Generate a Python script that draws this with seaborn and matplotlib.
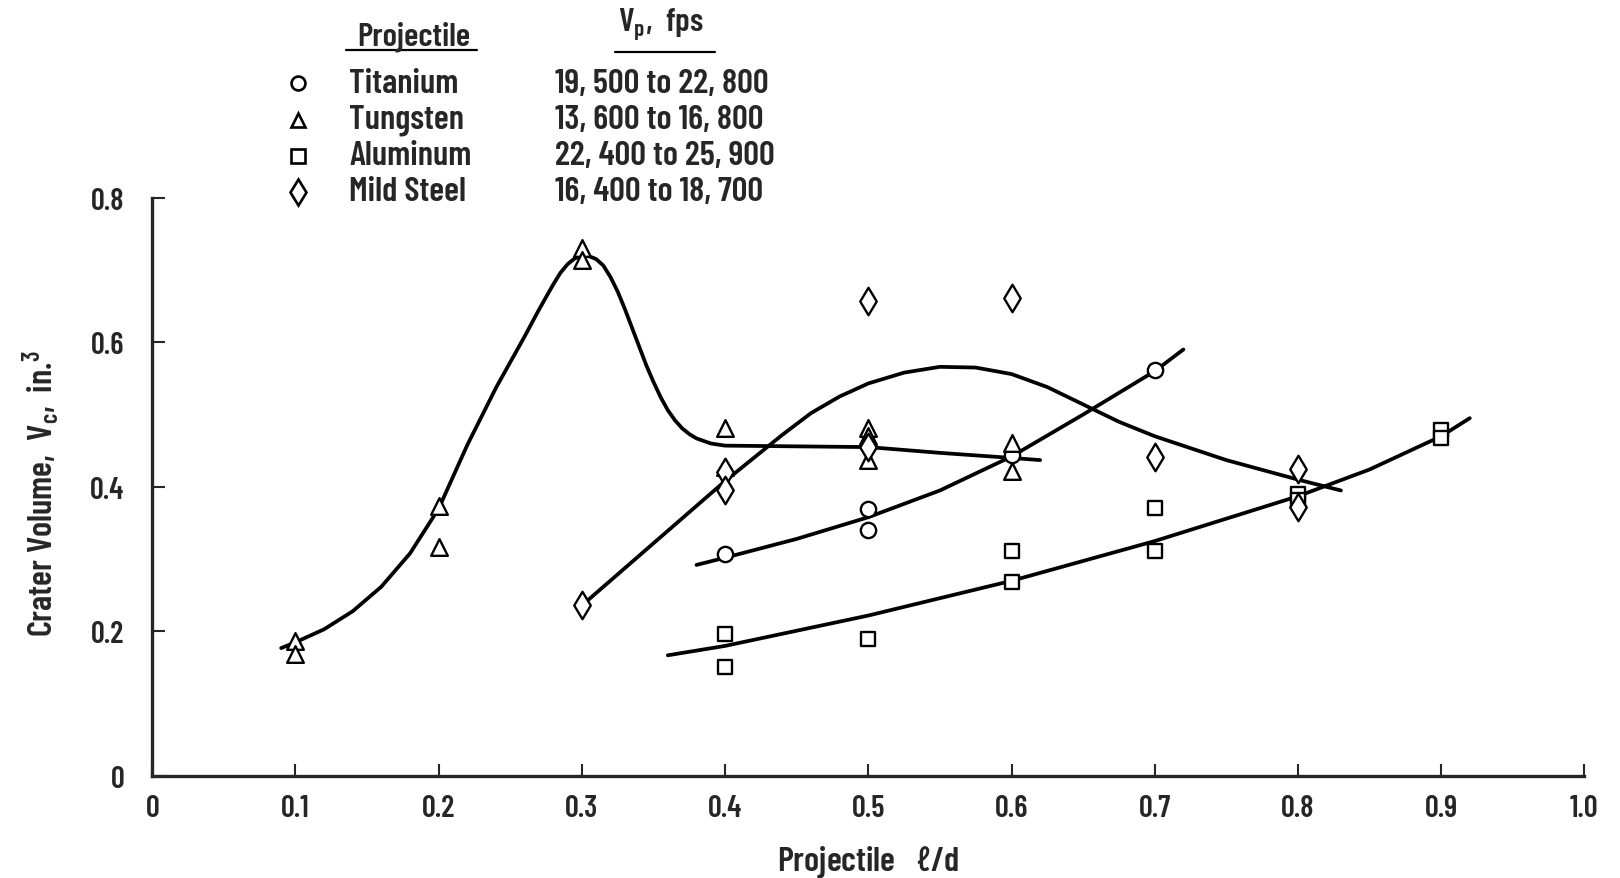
import pandas as pd
import matplotlib
matplotlib.use('Agg')
import matplotlib.pyplot as plt
import seaborn as sns

ti_x = [0.4, 0.5, 0.5, 0.6, 0.7]
ti_y = [0.307, 0.369, 0.341, 0.444, 0.562]
w_x = [0.1, 0.1, 0.2, 0.2, 0.3, 0.3, 0.4, 0.4, 0.5, 0.5, 0.5, 0.6, 0.6]
w_y = [0.187, 0.169, 0.374, 0.317, 0.730, 0.714, 0.481, 0.428, 0.482, 0.470, 0.437, 0.461, 0.422]
al_x = [0.4, 0.4, 0.5, 0.6, 0.6, 0.7, 0.7, 0.8, 0.8, 0.9, 0.9]
al_y = [0.197, 0.151, 0.189, 0.311, 0.269, 0.371, 0.311, 0.390, 0.382, 0.479, 0.467]
st_x = [0.3, 0.4, 0.4, 0.5, 0.5, 0.6, 0.7, 0.8, 0.8]
st_y = [0.236, 0.420, 0.396, 0.657, 0.455, 0.661, 0.441, 0.425, 0.372]

# faired curves, points
w_cx = [0.09, 0.10, 0.12, 0.14, 0.16, 0.18, 0.20, 0.22, 0.24, 0.26, 0.27, 0.28, 0.285, 0.29, 0.295, 0.30,
        0.305, 0.31, 0.315, 0.32, 0.325, 0.33, 0.335, 0.34, 0.345, 0.35, 0.355, 0.36, 0.365, 0.37,
        0.375, 0.38, 0.39, 0.40, 0.45, 0.50, 0.55, 0.60, 0.62]
w_cy = [0.177, 0.185, 0.203, 0.228, 0.262, 0.308, 0.370, 0.458, 0.537, 0.608, 0.645, 0.680, 0.696, 0.708, 0.716, 0.719,
        0.719, 0.715, 0.706, 0.690, 0.670, 0.646, 0.620, 0.594, 0.568, 0.545, 0.524, 0.506, 0.492, 0.481,
        0.473, 0.467, 0.460, 0.457, 0.456, 0.455, 0.447, 0.440, 0.437]
st_cx = [0.30, 0.35, 0.40, 0.42, 0.44, 0.46, 0.48, 0.50, 0.525, 0.55, 0.575, 0.60, 0.625, 0.65, 0.675,
         0.70, 0.75, 0.80, 0.83]
st_cy = [0.236, 0.322, 0.408, 0.440, 0.472, 0.502, 0.525, 0.543, 0.558, 0.566, 0.565, 0.556, 0.538, 0.514, 0.490,
         0.470, 0.437, 0.410, 0.395]
ti_cx = [0.38, 0.40, 0.45, 0.50, 0.55, 0.60, 0.65, 0.70, 0.72]
ti_cy = [0.292, 0.302, 0.328, 0.358, 0.395, 0.442, 0.500, 0.560, 0.590]
al_cx = [0.36, 0.40, 0.50, 0.60, 0.70, 0.80, 0.85, 0.90, 0.92]
al_cy = [0.167, 0.180, 0.222, 0.270, 0.325, 0.387, 0.424, 0.470, 0.495]

names = ['Titanium', 'Tungsten', 'Aluminum', 'Mild Steel']
speeds = ['19, 500 to 22, 800', '13, 600 to 16, 800', '22, 400 to 25, 900', '16, 400 to 18, 700']
marks = ['o', '^', 's', 'd']
msize = [11, 12, 10, 14]

sns.set_style('ticks')
plt.rcParams['font.family'] = ['Barlow Condensed', 'DejaVu Sans']
plt.rcParams['font.stretch'] = 'condensed'
plt.rcParams['font.weight'] = 'semibold'
plt.rcParams['axes.labelweight'] = 'semibold'
plt.rcParams['mathtext.default'] = 'regular'

fig = plt.figure(figsize=(16.2, 8.79), dpi=100)
ax = fig.add_axes([0.094, 0.116, 0.884, 0.658])

for cx, cy in [(w_cx, w_cy), (st_cx, st_cy), (ti_cx, ti_cy), (al_cx, al_cy)]:
    sns.lineplot(x=cx, y=cy, sort=False, color='black', linewidth=2.7, ax=ax)

pts = [(ti_x, ti_y), (w_x, w_y), (al_x, al_y), (st_x, st_y)]
for (px, py), m, s in zip(pts, marks, msize):
    sns.scatterplot(x=px, y=py, marker=m, s=s ** 2, color='white', edgecolor='black',
                    linewidth=1.7, ax=ax, zorder=3)

ax.set_xlim(0, 1.0)
ax.set_ylim(0, 0.8)
ax.set_xticks([i / 10 for i in range(11)])
ax.set_xticklabels(['0'] + ['%.1f' % (i / 10) for i in range(1, 11)])
ax.set_yticks([0, 0.2, 0.4, 0.6, 0.8])
ax.set_yticklabels(['0', '0.2', '0.4', '0.6', '0.8'])
ax.tick_params(direction='in', length=9, width=1.5, labelsize=22)
ax.tick_params(axis='x', pad=13)
ax.tick_params(axis='y', pad=20)
sns.despine(ax=ax)
for sp in ['left', 'bottom']:
    ax.spines[sp].set_linewidth(2.4)

ax.set_xlabel(r'Projectile   $\ell$/d', fontsize=25)
ax.set_ylabel(r'Crater Volume,  V$_c$,  in.$^3$', fontsize=25)
ax.xaxis.set_label_coords(0.5, -0.115)
ax.yaxis.set_label_coords(-0.063, 0.49)

# key at top
tr = ax.transAxes
ax.text(0.1823, 1.2656, 'Projectile', transform=tr, ha='center', va='baseline', fontsize=24)
ax.plot([0.1355, 0.2270], [1.2549, 1.2549], transform=tr, color='black', lw=1.6, clip_on=False)
ax.text(0.3554, 1.2907, r'V$_p$,  fps', transform=tr, ha='center', va='baseline', fontsize=24)
ax.plot([0.3232, 0.3931], [1.2514, 1.2514], transform=tr, color='black', lw=1.6, clip_on=False)
rows = [1.1978, 1.135, 1.0727, 1.010]
for yy, n, v, m in zip(rows, names, speeds, marks):
    ax.plot([0.1017], [yy], marker=m, ms=10 if m != 'd' else 13, mfc='white', mec='black', mew=1.9,
            transform=tr, clip_on=False)
    ax.text(0.1376, yy, n, transform=tr, ha='left', va='center', fontsize=25)
    ax.text(0.2813, yy, v, transform=tr, ha='left', va='center', fontsize=25)

plt.savefig('out.png', dpi=100)
